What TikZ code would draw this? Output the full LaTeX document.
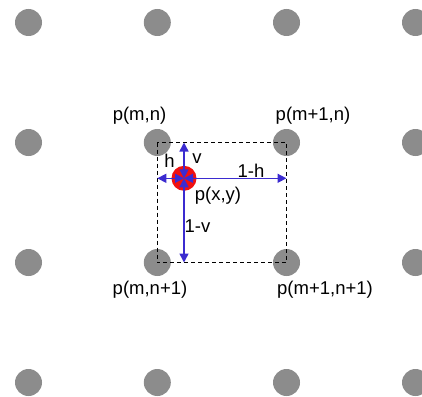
\documentclass[tikz,border=0pt]{standalone}
\usepackage{fontspec}
\setmainfont{Liberation Sans}
\usetikzlibrary{arrows.meta}
\definecolor{dotgray}{HTML}{8C8C8C}
\definecolor{arrblue}{HTML}{3B2BD0}
\definecolor{pred}{HTML}{F01010}
\begin{document}
\begin{tikzpicture}[x=1pt,y=-1pt,
  griddot/.style={circle,fill=dotgray,minimum size=27pt,inner sep=0pt},
  lbl/.style={inner sep=0pt,font=\fontsize{18.5}{20}\selectfont},
  dashbox/.style={draw=black,line width=1.3pt,dash pattern=on 4pt off 3pt},
  vec/.style={draw=arrblue,line width=1.5pt,{Triangle[length=9pt,width=9pt]}-{Triangle[length=9pt,width=9pt]},shorten <=0pt},
  ptx/.style={circle,fill=pred,minimum size=25pt,inner sep=0pt}]
\useasboundingbox (0,0) rectangle (422,396);
% grid dots
\foreach \i/\x in {0/28.5,1/157.3,2/286.5,3/415.5}{
  \foreach \j/\y in {0/22.5,1/142.5,2/262.5,3/382.5}{
    \node[griddot] (d\i\j) at (\x,\y) {};
  }
}
% dashed cell
\draw[dashbox] (d11.center) rectangle (d22.center);
% sample point
\node[ptx] (c) at (184,178.3) {};
\coordinate (tp) at (184,142.5);
\coordinate (lp) at (157.3,178.3);
\coordinate (rp) at (286.5,178.3);
\coordinate (bp) at (184,262.5);
\draw[vec] (c.center) -- (tp);
\draw[vec] (c.center) -- (lp);
\draw[vec] (c.center) -- (rp);
\draw[vec] (c.center) -- (bp);
% labels
\node[lbl] (lh) at (169.5,161) {h};
\node[lbl] (lv) at (197,159) {v};
\node[lbl] (l1h) at (251,171) {1-h};
\node[lbl] (lpxy) at (218,196) {p(x,y)};
\node[lbl] (l1v) at (197.5,226.5) {1-v};
\node[lbl] (lmn) at (139.5,116) {p(m,n)};
\node[lbl] (lm1n) at (313,116) {p(m+1,n)};
\node[lbl] (lmn1) at (150,290) {p(m,n+1)};
\node[lbl] (lm1n1) at (325,290) {p(m+1,n+1)};
\end{tikzpicture}
\end{document}
